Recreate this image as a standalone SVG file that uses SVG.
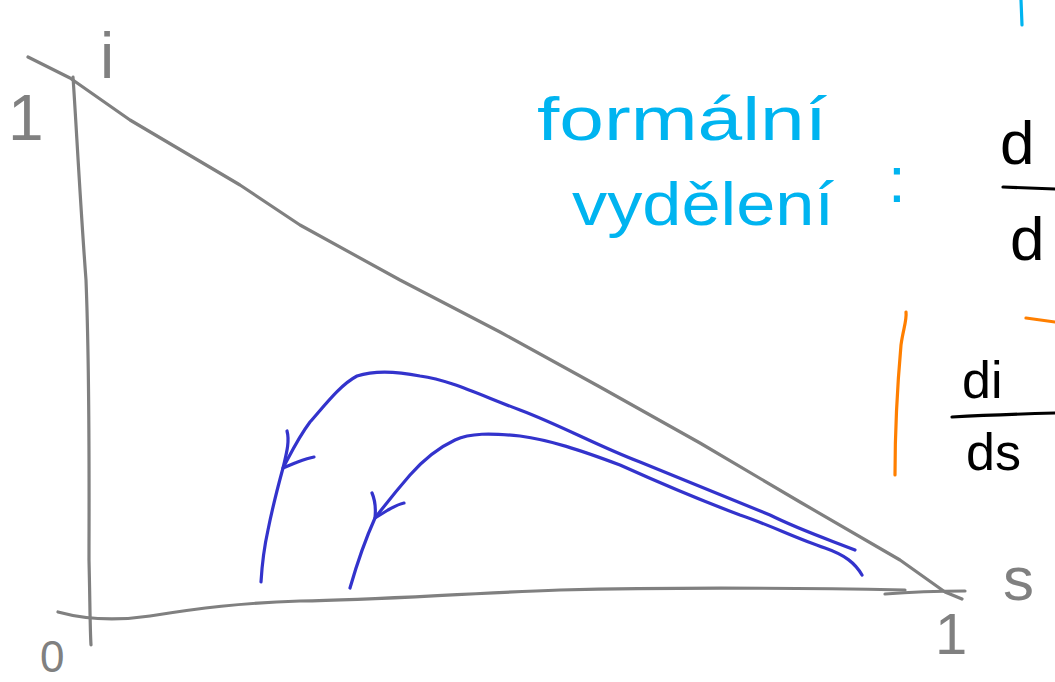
<svg xmlns="http://www.w3.org/2000/svg" width="1055" height="682" viewBox="0 0 1055 682">
<style>
.g{fill:none;stroke:#808080;stroke-width:3.2;stroke-linecap:round;stroke-linejoin:round}
.b{fill:none;stroke:#3333cc;stroke-width:3.2;stroke-linecap:round;stroke-linejoin:round}
.c{fill:none;stroke:#00b4f0;stroke-width:3.2;stroke-linecap:round}
.o{fill:none;stroke:#ff7f00;stroke-width:3.2;stroke-linecap:round}
.k{fill:none;stroke:#000;stroke-width:3.2;stroke-linecap:round}
.tg{font-family:"Liberation Sans",sans-serif;fill:#808080}
.tc{font-family:"Liberation Sans",sans-serif;fill:#00b4f0}
.tk{font-family:"Liberation Sans",sans-serif;fill:#000}
</style>
<rect width="1055" height="682" fill="#fff"/>
<g id="axes">
<path class="g" d="M73,77 C76,120 80,200 86,280 C90,380 89,500 89,560 C90,600 90,630 91,645"/>
<path class="g" d="M58,612 C80,618 110,622 150,616 C200,608 240,603 300,601 C380,600 450,594 560,590 C680,587 800,588 905,590"/>
<path class="g" d="M885,594 C910,592 940,591 965,591"/>
<path class="g" d="M28,57 L70,78 L130,120 L240,185 L300,225 L400,280 L500,332 L600,387 L700,443 L800,502 L900,560 L945,592 L962,599"/>
</g>
<g id="label-i"><text class="tg" x="100" y="78" font-size="64">i</text></g>
<g id="label-1-top"><text class="tg" x="8" y="140" font-size="64">1</text></g>
<g id="label-0"><text class="tg" x="40" y="672" font-size="44">0</text></g>
<g id="label-1-right"><text class="tg" x="935" y="654" font-size="58">1</text></g>
<g id="label-s"><text class="tg" x="1003" y="600" font-size="62">s</text></g>
<g id="note">
<text class="tc" x="537" y="140" font-size="62" textLength="290" lengthAdjust="spacingAndGlyphs">formální</text>
<text class="tc" x="572" y="225" font-size="62" textLength="262" lengthAdjust="spacingAndGlyphs">vydělení</text>
<text class="tc" x="888" y="202" font-size="64">:</text>
<path class="c" d="M1021,0 L1022,25"/>
</g>
<g id="fraction-top">
<text class="tk" x="1000" y="164" font-size="62">d</text>
<path class="k" d="M1003,187 L1055,189"/>
<text class="tk" x="1010" y="260" font-size="62">d</text>
</g>
<g id="fraction-di-ds">
<path class="o" d="M906,312 C907,320 903,330 901,345 C897,390 895,430 895,475"/>
<path class="o" d="M1026,318 L1055,322"/>
<text class="tk" x="962" y="398" font-size="52">di</text>
<path class="k" d="M952,417 C990,415 1020,414 1055,413"/>
<text class="tk" x="966" y="470" font-size="52">ds</text>
</g>
<g id="connectors">
<path class="b" d="M855,550 C830,540 800,530 770,515 C720,495 680,478 640,462 C600,447 560,425 520,410 C480,395 450,380 420,376 C400,372 375,370 357,376 C340,385 325,405 310,422 C298,438 290,455 283,468 C277,490 272,510 268,530 C264,548 262,565 261,582"/>
<path class="b" d="M287,431 C290,442 286,455 283,468 L295,463 C303,460 308,458 314,457"/>
<path class="b" d="M862,575 C855,563 845,555 825,548 C795,538 770,525 740,515 C700,500 660,483 620,465 C580,450 550,440 520,436 C490,433 470,433 455,440 C440,447 425,458 410,475 C397,490 385,505 375,518 C366,538 358,560 350,588"/>
<path class="b" d="M372,493 C375,500 376,508 375,518 L388,510 C395,506 399,504 404,503"/>
</g>
</svg>
